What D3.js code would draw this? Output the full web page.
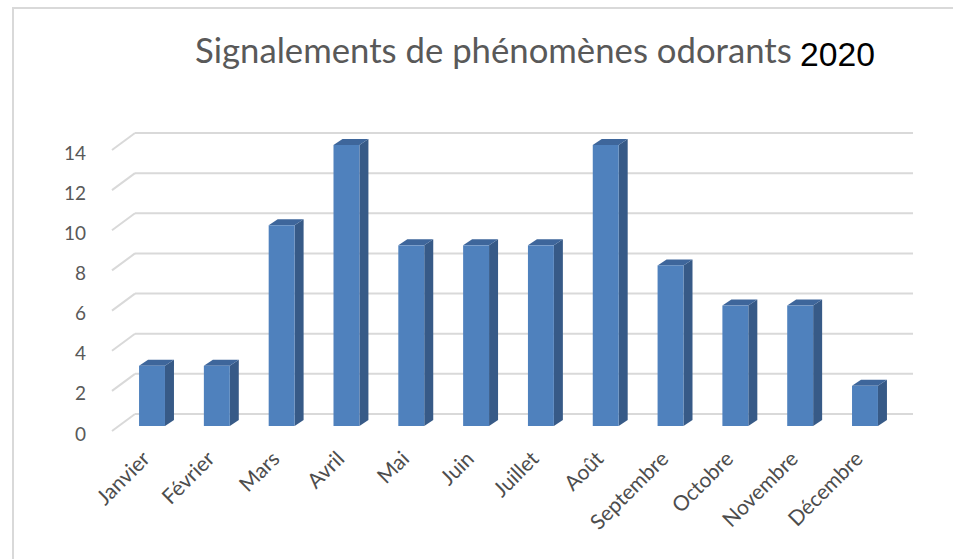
<!DOCTYPE html>
<html>
<head>
<meta charset="utf-8">
<script src="https://cdn.jsdelivr.net/npm/d3@7"></script>
<style>
html,body{margin:0;padding:0;background:#fff;}
svg{display:block;}
</style>
</head>
<body>
<svg id="chart" width="953" height="559"></svg>
<script>
const months = ["Janvier","Février","Mars","Avril","Mai","Juin","Juillet","Août","Septembre","Octobre","Novembre","Décembre"];
const values = [3,3,10,14,9,9,9,14,8,6,6,2];
const yTicks = [0,2,4,6,8,10,12,14];
const titleMain = "Signalements de phénomènes odorants";
const titleYear = "2020";

const svg = d3.select("#chart");

// frame border
svg.append("path")
  .attr("d","M13,559 L13,8 L953,8")
  .attr("fill","none").attr("stroke","#d9d9d9").attr("stroke-width",2);

const x = d3.scaleBand().domain(months).range([119.6, 897.4]).paddingInner(0.6).paddingOuter(0.3);
const y = d3.scaleLinear().domain([0,14]).range([426,145]);

const depthX = 9, depthY = 6;   // bar depth offsets
const backDX = 23, backDY = 17; // wall offsets

// gridlines (back wall + side diagonal)
const grid = svg.append("g");
yTicks.forEach(v => {
  const yb = y(v) - 12;
  grid.append("line").attr("x1",135).attr("x2",913).attr("y1",yb).attr("y2",yb)
    .attr("stroke","#d9d9d9").attr("stroke-width",2);
  grid.append("line").attr("x1",135-backDX).attr("y1",yb+backDY).attr("x2",135).attr("y2",yb)
    .attr("stroke","#d9d9d9").attr("stroke-width",2);
});

// y axis labels
const yAxis = d3.axisLeft(y).tickValues(yTicks).tickSize(0).tickPadding(0);
const yg = svg.append("g").attr("transform","translate(86,8)").call(yAxis);
yg.select(".domain").remove();
yg.selectAll("text").attr("font-family","Lato, 'Open Sans', sans-serif").attr("font-size",19).attr("fill","#595959");

// bars
const bars = svg.append("g").selectAll("g").data(months).join("g");
bars.each(function(m,i){
  const g = d3.select(this);
  const x0 = x(m), w = x.bandwidth(), yt = y(values[i]), yb = y(0);
  g.append("path").attr("d",`M${x0+w},${yb} L${x0+w+depthX},${yb-depthY} L${x0+w+depthX},${yt-depthY} L${x0+w},${yt} Z`)
    .attr("fill","#375a87");
  g.append("path").attr("d",`M${x0},${yt} L${x0+depthX},${yt-depthY} L${x0+w+depthX},${yt-depthY} L${x0+w},${yt} Z`)
    .attr("fill","#3e669b");
  g.append("rect").attr("x",x0).attr("y",yt).attr("width",w).attr("height",yb-yt)
    .attr("fill","#4f81bd");
});

// x labels
const xg = svg.append("g");
months.forEach(m => {
  const cx = x(m) + x.bandwidth()/2;
  xg.append("text")
    .attr("transform",`translate(${cx-6},${455}) rotate(-45)`)
    .attr("text-anchor","end")
    .attr("dy","0.35em")
    .attr("font-family","Lato, 'Open Sans', sans-serif")
    .attr("font-size",21)
    .attr("fill","#4d4d4d")
    .text(m);
});

// title
const t1 = svg.append("text").attr("x",195).attr("y",63)
  .attr("font-family","Lato, 'Open Sans', sans-serif").attr("font-size",30).attr("fill","#595959")
  .text(titleMain);
const w1 = t1.node().getComputedTextLength();
t1.attr("font-size", 30*597/w1);
const t2 = svg.append("text").attr("x",800).attr("y",66)
  .attr("font-family","'Liberation Sans', Arial, sans-serif").attr("font-size",30).attr("fill","#000")
  .text(titleYear);
const w2 = t2.node().getComputedTextLength();
t2.attr("font-size", 30*75/w2);
</script>
</body>
</html>
